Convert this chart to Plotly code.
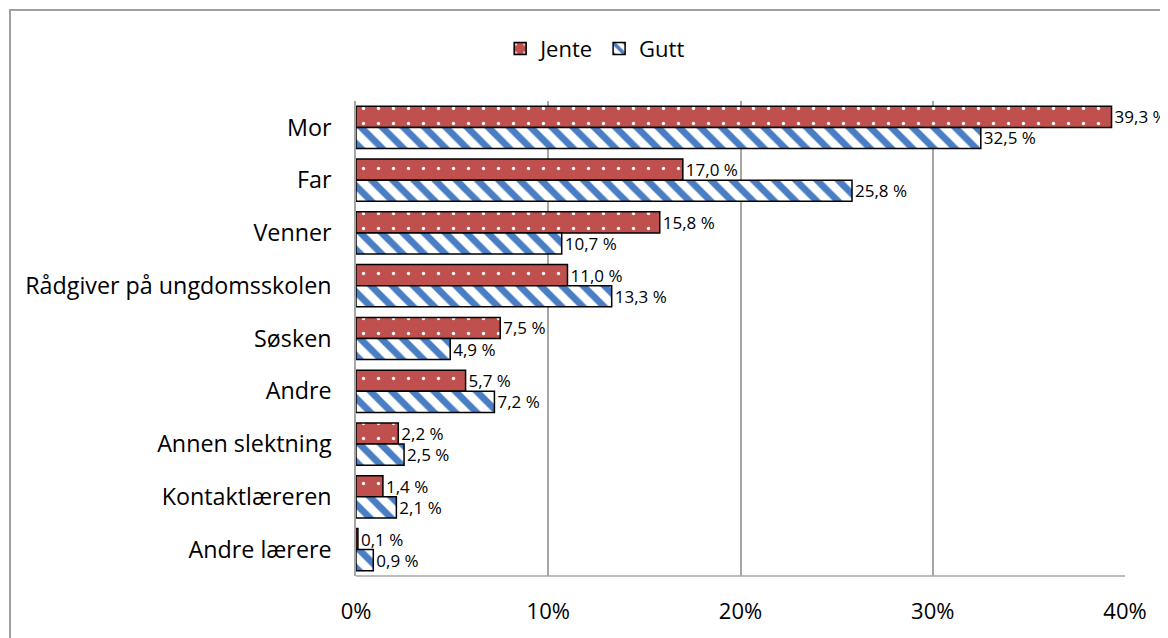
import plotly.graph_objects as go

categories = ["Mor", "Far", "Venner", "Rådgiver på ungdomsskolen", "Søsken",
              "Andre", "Annen slektning", "Kontaktlæreren", "Andre lærere"]
jente = [39.3, 17.0, 15.8, 11.0, 7.5, 5.7, 2.2, 1.4, 0.1]
gutt = [32.5, 25.8, 10.7, 13.3, 4.9, 7.2, 2.5, 2.1, 0.9]
tick_vals = [0, 10, 20, 30, 40]
tick_text = ["0%", "10%", "20%", "30%", "40%"]

FONT = "Open Sans"
RED = "#C0504D"
BLUE = "#4A7EC4"

def fmt(v):
    return f"{v:.1f}".replace(".", ",") + " %"

fig = go.Figure()
fig.add_trace(go.Bar(
    name="Jente", y=categories, x=jente, orientation="h",
    text=[fmt(v) for v in jente], textposition="outside", cliponaxis=False,
    constraintext="none",
    textfont=dict(family=FONT, size=17, color="black"),
    marker=dict(color=RED, line=dict(color="black", width=1.5),
                pattern=dict(shape=".", fgcolor="white", bgcolor=RED,
                             size=15, solidity=0.04, fillmode="replace")),
))
fig.add_trace(go.Bar(
    name="Gutt", y=categories, x=gutt, orientation="h",
    text=[fmt(v) for v in gutt], textposition="outside", cliponaxis=False,
    constraintext="none",
    textfont=dict(family=FONT, size=17, color="black"),
    marker=dict(color="white", line=dict(color="black", width=1.5),
                pattern=dict(shape="\\", fgcolor=BLUE, bgcolor="white",
                             size=15, solidity=0.45, fillmode="replace")),
))

fig.update_layout(
    width=1160, height=630,
    margin=dict(l=348, r=43, t=93, b=62, autoexpand=False),
    paper_bgcolor="white", plot_bgcolor="white",
    barmode="group", bargap=0.2, bargroupgap=0,
    font=dict(family=FONT, size=22, color="black"),
    legend=dict(orientation="h", x=0.311, xanchor="center", y=1.11, yanchor="middle",
                font=dict(family=FONT, size=22), traceorder="normal"),
    xaxis=dict(range=[0, 40], tickvals=tick_vals, ticktext=tick_text,
               showgrid=True, gridcolor="#A6A6A6", gridwidth=1.5,
               zeroline=False, showline=False, ticks="",
               tickfont=dict(family=FONT, size=22), ticklabelstandoff=20),
    yaxis=dict(autorange="reversed", showline=True, linecolor="#A6A6A6", linewidth=1.5,
               ticks="", showgrid=False, tickfont=dict(family=FONT, size=23.3),
               ticklabelstandoff=18),
    shapes=[
        dict(type="line", xref="paper", yref="paper", x0=0, x1=1, y0=0, y1=0,
             line=dict(color="#A6A6A6", width=1.5)),
        dict(type="rect", xref="paper", yref="paper",
             x0=-0.4499, x1=1.2, y0=-0.3, y1=1.1916,
             line=dict(color="#A0A0A0", width=2), layer="below"),
    ],
)

fig.write_html("out.html")
